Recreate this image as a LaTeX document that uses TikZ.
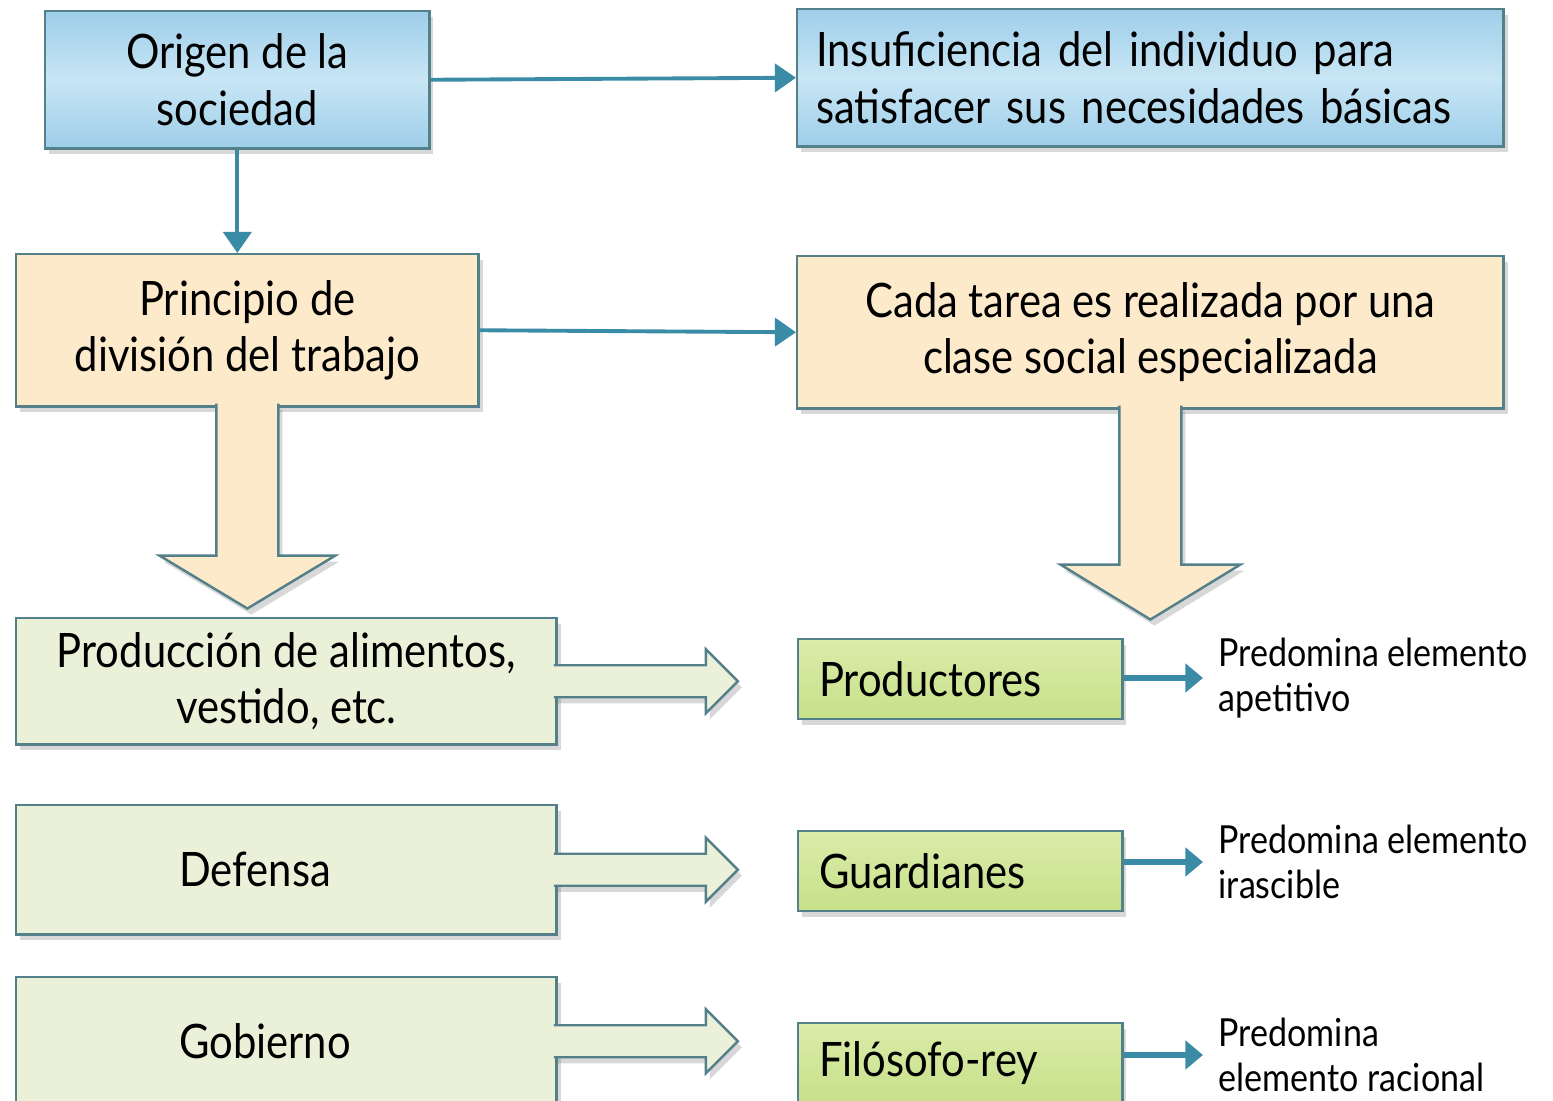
\documentclass[tikz,border=0pt]{standalone}
\usepackage{fontspec}
\setmainfont[FakeStretch=0.88]{Lato}
\usetikzlibrary{arrows.meta,shadows,calc}

\definecolor{borde}{RGB}{84,128,138}
\definecolor{conector}{RGB}{58,140,166}
\definecolor{azulA}{RGB}{158,206,233}
\definecolor{azulB}{RGB}{200,230,245}
\definecolor{durazno}{RGB}{253,234,203}
\definecolor{beige}{RGB}{235,241,217}
\definecolor{verdeA}{RGB}{218,236,168}
\definecolor{verdeB}{RGB}{198,224,138}

\begin{document}
\begin{tikzpicture}[x=0.01cm, y=-0.01cm,
    sombra/.style={drop shadow={shadow xshift=0.04cm, shadow yshift=-0.06cm, opacity=0.25, fill=black!60}},
    caja/.style={draw=borde, line width=0.7pt, anchor=north west, inner sep=0pt, align=center,
        font=\fontsize{13.5}{16}\selectfont, sombra},
    azul/.style={caja, top color=azulA, bottom color=azulA, middle color=azulB},
    naranja/.style={caja, fill=durazno},
    tarea/.style={caja, fill=beige, minimum width=5.4cm},
    clase/.style={caja, top color=verdeA, bottom color=verdeB, align=left, text width=2.82cm,
        inner xsep=0.21cm, minimum height=0.8cm},
    nota/.style={anchor=west, align=left, inner xsep=0.15cm, font=\fontsize{11}{12.8}\selectfont},
    flecha/.style={draw=conector, line width=1.1pt, -{Triangle[length=6pt, width=8pt]}},
    flechaC/.style={draw=conector, line width=1.8pt, -{Triangle[length=5pt, width=8pt]}},
    bloque/.style={draw=borde, line width=0.7pt, fill=durazno, sombra},
    bloqueV/.style={draw=borde, line width=0.7pt, fill=beige, sombra}
  ]
  \fill[white] (0,0) rectangle (1553,1101);
  \useasboundingbox (0,0) rectangle (1553,1101);

  % Fila superior
  \node[azul, minimum width=3.84cm, minimum height=1.37cm] (origen) at (44,10) {Origen de la\\sociedad};
  \node[azul, align=left, text width=6.68cm, inner xsep=0.19cm, minimum height=1.37cm] (insuf) at (796,8)
    {Insuficiencia del individuo para\\satisfacer sus necesidades básicas};

  % Segunda fila
  \node[naranja, minimum width=4.62cm, minimum height=1.52cm] (princ) at (15,253) {Principio de\\división del trabajo};
  \node[naranja, minimum width=7.06cm, minimum height=1.52cm] (cada) at (796,255)
    {Cada tarea es realizada por una\\clase social especializada};

  % Tareas
  \node[tarea, minimum height=1.26cm] (prod) at (15,617) {Producción de alimentos,\\vestido, etc.};
  \node[tarea, align=left, text width=2.14cm, inner xsep=1.63cm, minimum height=1.29cm] (def) at (15,804) {Defensa};
  \node[tarea, align=left, text width=2.14cm, inner xsep=1.63cm, minimum height=1.28cm] (gob) at (15,976) {Gobierno};

  % Clases sociales
  \node[clase] (productores) at (797,638) {Productores};
  \node[clase] (guardianes) at (797,830) {Guardianes};
  \node[clase] (filosofo) at (797,1022) {Filósofo-rey};

  % Notas
  \node[nota] (n1) at (1203,678) {Predomina elemento\\apetitivo};
  \node[nota] (n2) at (1203,862) {Predomina elemento\\irascible};
  \node[nota] (n3) at (1203,1055) {Predomina\\elemento racional};

  % Conectores
  \draw[flecha] (origen.east) -- (insuf.west);
  \draw[flecha] (origen.south) -- (origen.south |- princ.north);
  \draw[flecha] (princ.east) -- (cada.west);
  \draw[flechaC] (productores.east |- n1.west) -- (n1.west);
  \draw[flechaC] (guardianes.east |- n2.west) -- (n2.west);
  \draw[flechaC] (filosofo.east |- n3.west) -- (n3.west);

  % Flechas anchas hacia abajo
  \filldraw[bloque] ($(princ.south)+(-31,-4)$) -- ++(0,152) -- ++(-57,0) -- ++(88,53)
    -- ++(88,-53) -- ++(-57,0) -- ++(0,-152);
  \filldraw[bloque] ($(cada.south)+(-31,-4)$) -- ++(0,159) -- ++(-59,0) -- ++(90,55)
    -- ++(90,-55) -- ++(-59,0) -- ++(0,-159);

  % Flechas anchas hacia la derecha
  \filldraw[bloqueV] ($(prod.east)+(-4,-16)$) -- ++(152,0) -- ++(0,-16) -- ++(32,32)
    -- ++(-32,32) -- ++(0,-16) -- ++(-152,0);
  \filldraw[bloqueV] ($(def.east)+(-4,-16)$) -- ++(152,0) -- ++(0,-16) -- ++(32,32)
    -- ++(-32,32) -- ++(0,-16) -- ++(-152,0);
  \filldraw[bloqueV] ($(gob.east)+(-4,-16)$) -- ++(152,0) -- ++(0,-16) -- ++(32,32)
    -- ++(-32,32) -- ++(0,-16) -- ++(-152,0);
\end{tikzpicture}
\end{document}
